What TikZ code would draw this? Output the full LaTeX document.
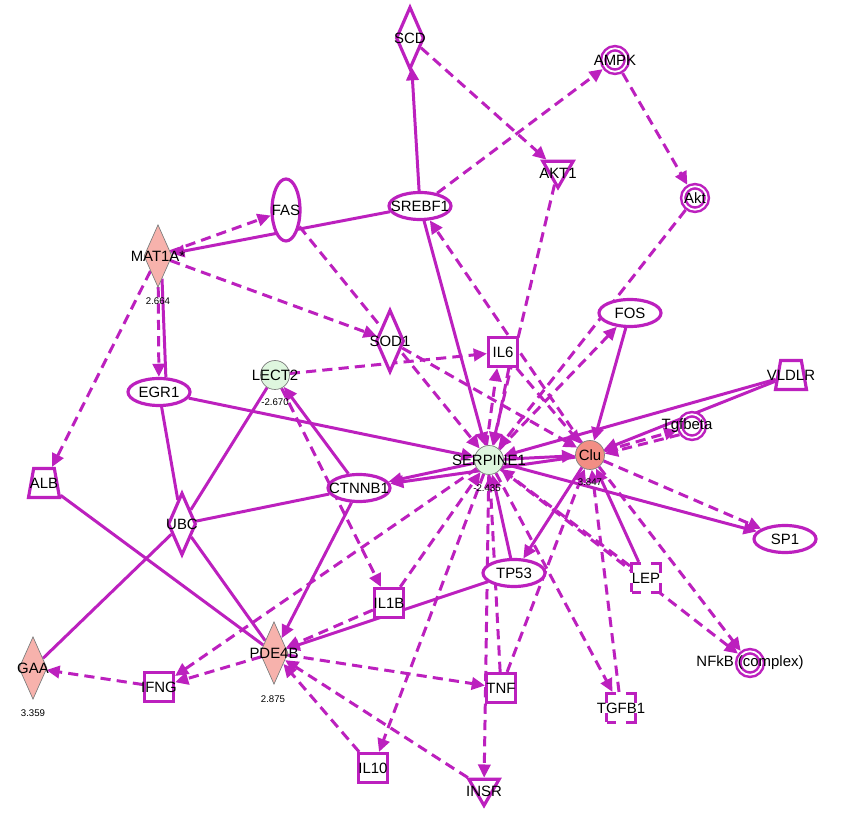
\documentclass[tikz,border=0pt]{standalone}
\usepackage{fontspec}
\setmainfont{Liberation Sans}
\usetikzlibrary{shapes.geometric,arrows.meta,backgrounds}
\definecolor{ipamag}{RGB}{188,32,190}
\definecolor{upreg}{RGB}{247,178,172}
\definecolor{upstrong}{RGB}{242,142,132}
\definecolor{downreg}{RGB}{222,246,222}
\newcommand{\lab}{\fontsize{8.5}{9}\selectfont}
\newcommand{\valfont}{\fontsize{5.5}{6}\selectfont}
\tikzset{
  mol/.style={draw=ipamag,line width=1.8pt,fill=white,inner sep=0pt},
  oval/.style={mol,ellipse,minimum width=1.24cm,minimum height=0.54cm},
  tall/.style={mol,ellipse,minimum width=0.56cm,minimum height=1.24cm},
  box/.style={mol,rectangle,minimum size=0.58cm},
  gfbox/.style={box,dash pattern=on 0.39cm off 0.19cm,dash phase=0.195cm},
  kite/.style={mol,diamond,minimum width=0.56cm,minimum height=1.25cm},
  ring/.style={mol,circle,line width=0.05cm,double=white,double distance=0.035cm,minimum size=0.47cm,outer sep=0.07cm},
  cup/.style={mol,trapezium,trapezium left angle=76,trapezium right angle=76,trapezium stretches=true,minimum width=0.62cm,minimum height=0.58cm,inner sep=1pt},
  vee/.style={mol,regular polygon,regular polygon sides=3,shape border rotate=180,minimum size=0.7cm},
  expr/.style={draw=gray,line width=0.4pt},
  dot/.style={mol,expr,circle,minimum size=0.58cm},
  every label/.style={font=\lab,inner sep=0pt,text=black},
  val/.style={font=\valfont,inner sep=0pt},
  bind/.style={draw=ipamag,line width=1.7pt},
  rel/.style={bind,-{Triangle[length=7.5pt,width=7pt]}},
  ind/.style={rel,dash pattern=on 5.8pt off 3.5pt}
}
\begin{document}
\begin{tikzpicture}[x=0.02cm,y=-0.02cm]
\node[kite,label=center:SCD] (scd) at (410,38) {};
\node[ring,label=center:AMPK] (ampk) at (615,60) {};
\node[vee,label={[yshift=-2pt]center:AKT1}] (akt1) at (558,170) {};
\node[ring,label=center:Akt] (akt) at (695,198) {};
\node[tall,label=center:FAS] (fas) at (286,210) {};
\node[oval,label=center:SREBF1] (srebf) at (420,206) {};
\node[kite,expr,fill=upreg,label=center:MAT1A*] (mat) at (158,256) {};
\node[val] (matv) at (158,301) {2.664};
\node[kite,label=center:SOD1] (sod) at (390,341) {};
\node[box,label=center:IL6] (ilsix) at (503,352) {};
\node[oval,label=center:FOS] (fos) at (630,313) {};
\node[dot,fill=downreg,label=center:LECT2] (lect) at (275,375) {};
\node[val] (lectv) at (275,402) {-2.670};
\node[oval,label=center:EGR1] (egr) at (159,392) {};
\node[cup,label=center:VLDLR] (vldlr) at (791,375) {};
\node[ring,label={[xshift=-0.1cm]center:Tgfbeta}] (tgfb) at (692,426) {};
\node[dot,fill=downreg,label=center:SERPINE1] (serp) at (489,460) {};
\node[val] (serpv) at (487,488) {-2.435};
\node[dot,fill=upstrong,label=center:Clu] (clu) at (590,455) {};
\node[val] (cluv) at (590,482) {3.847};
\node[oval,label=center:CTNNB1] (ctnnb) at (359,488) {};
\node[cup,label=center:ALB] (alb) at (44,483) {};
\node[kite,label=center:UBC] (ubc) at (182,524) {};
\node[oval,label=center:SP1] (spone) at (785,539) {};
\node[oval,label=center:TP53] (tp) at (514,573) {};
\node[gfbox,label=center:LEP] (lep) at (646,578) {};
\node[box,label=center:IL1B] (ilib) at (389,603) {};
\node[kite,expr,fill=upreg,label=center:PDE4B] (pde) at (274,653) {};
\node[val] (pdev) at (273,699) {2.875};
\node[kite,expr,fill=upreg,label=center:GAA] (gaa) at (33,668) {};
\node[val] (gaav) at (33,713) {3.359};
\node[box,label=center:IFNG] (ifng) at (159,687) {};
\node[box,label=center:TNF] (tnf) at (501,688) {};
\node[gfbox,label=center:TGFB1] (tgfbone) at (621,708) {};
\node[ring,label=center:{NFkB (complex)}] (nfkb) at (750,663) {};
\node[box,label=center:IL10] (ilten) at (373,768) {};
\node[vee,label={[yshift=-2pt]center:INSR}] (insr) at (484,788) {};
\begin{scope}[on background layer]
\fill[white] (0,0) rectangle (860,820);
\draw[rel] (srebf) -- (scd);
\draw[rel] (srebf) -- (mat);
\draw[rel] (srebf) -- (serp);
\draw[bind] (mat.-80) -- (egr.65);
\draw[rel] (egr) -- (serp);
\draw[bind] (egr) -- (ubc);
\draw[bind] (ubc) -- (lect);
\draw[bind] (ubc) -- (ctnnb);
\draw[bind] (ubc) -- (gaa);
\draw[bind] (ubc) -- (pde);
\draw[bind] (alb) -- (pde);
\draw[rel] (ctnnb) -- (lect);
\draw[rel] (ctnnb) -- (pde);
\draw[rel] (serp) -- (ctnnb);
\draw[rel] (clu) -- (ctnnb);
\draw[rel] (fos) -- (clu);
\draw[rel] (vldlr) -- (serp);
\draw[rel] (vldlr) -- (clu);
\draw[rel] (serp) -- (clu);
\draw[rel] (serp) -- (spone);
\draw[rel] (clu) -- (tp);
\draw[rel] (tp) -- (serp);
\draw[rel] (tp) -- (pde);
\draw[rel] (lep) -- (clu);
\draw[ind] (scd) -- (akt1);
\draw[ind] (srebf) -- (ampk);
\draw[ind] (ampk) -- (akt);
\draw[ind] (akt) -- (serp);
\draw[ind] (serp) -- (fos);
\draw[ind] (akt1) -- (serp);
\draw[ind] (clu) -- (srebf);
\draw[ind] (mat) -- (fas);
\draw[ind] (mat) -- (sod);
\draw[ind] (mat) -- (egr);
\draw[ind] (mat) -- (alb);
\draw[ind] (fas) -- (serp);
\draw[ind] (sod) -- (clu);
\draw[ind] (lect) -- (ilsix);
\draw[ind] (serp.100) -- (ilsix.-110);
\draw[ind] (ilsix.-70) -- (serp.72);
\draw[ind] (ilsix) -- (clu);
\draw[ind] (lect) -- (ilib);
\draw[ind] (clu) -- (tgfb);
\draw[ind] (tgfb.215) -- (clu.5);
\draw[ind] (clu) -- (spone);
\draw[ind] (clu) -- (nfkb);
\draw[ind] (serp) -- (nfkb);
\draw[ind] (lep) -- (serp);
\draw[ind] (serp) -- (tgfbone);
\draw[ind] (tgfbone) -- (clu);
\draw[ind] (tnf) -- (clu);
\draw[ind] (tnf) -- (serp);
\draw[ind] (serp) -- (insr);
\draw[ind] (serp) -- (ilten);
\draw[ind] (serp) -- (ifng);
\draw[ind] (ilib) -- (serp);
\draw[ind] (ilib) -- (pde);
\draw[ind] (pde) -- (ifng);
\draw[ind] (ifng) -- (gaa);
\draw[ind] (pde) -- (tnf);
\draw[ind] (ilten) -- (pde);
\draw[ind] (insr) -- (pde);
\end{scope}
\end{tikzpicture}
\end{document}
